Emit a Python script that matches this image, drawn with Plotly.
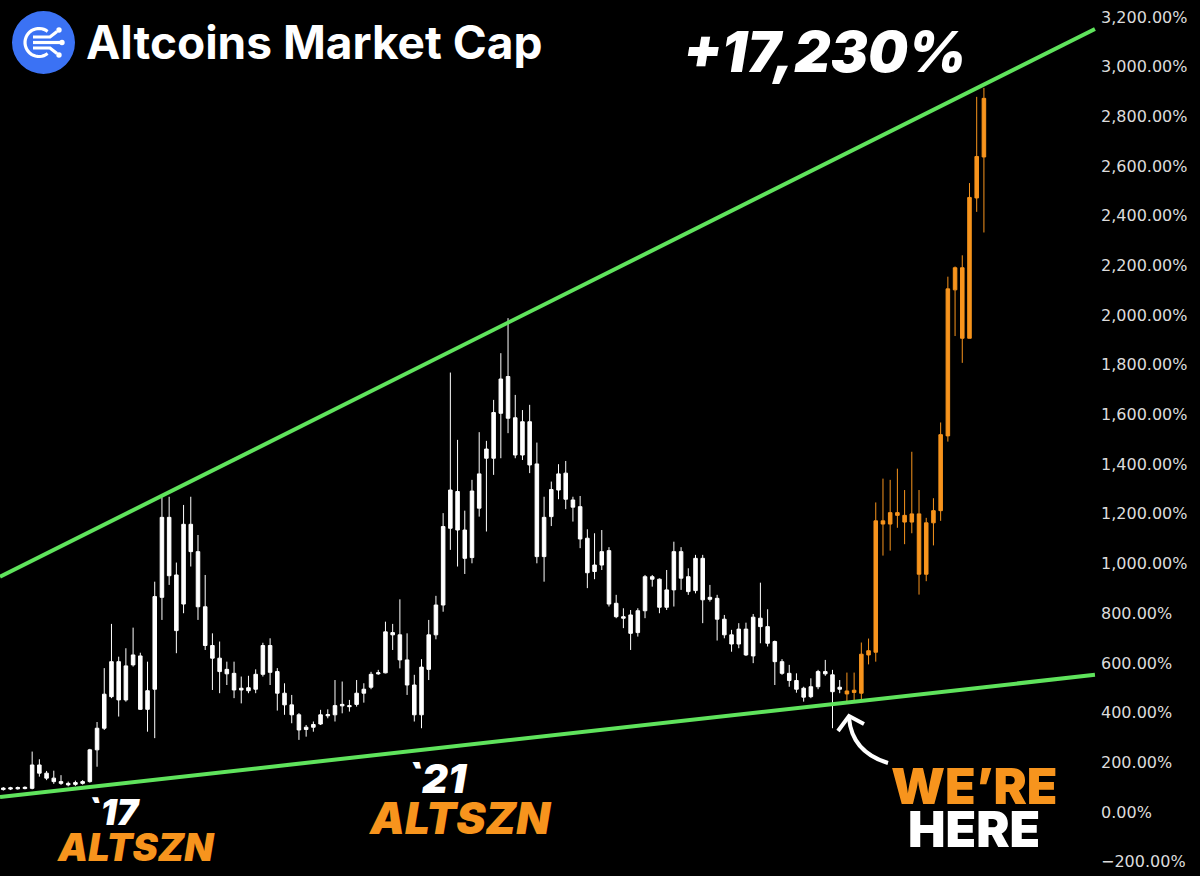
import numpy as np
import plotly.graph_objects as go

# bar-by-bar OHLC of the altcoin market cap, in % (oldest first)
OPEN = [90, 92, 93, 94, 95, 189, 156, 136, 122, 115,
        111, 115, 122, 250, 337, 464, 605, 451, 592, 628,
        413, 494, 864, 1186, 954, 837, 1158, 1048, 826, 670,
        619, 574, 558, 491, 488, 494, 554, 670, 565, 478,
        431, 391, 332, 341, 354, 387, 391, 427, 428, 433,
        478, 502, 556, 560, 722, 713, 612, 511, 391, 574,
        713, 833, 1142, 1290, 1135, 1024, 1223, 1424, 1424, 1605,
        1753, 1587, 1437, 1571, 1401, 1028, 1189, 1296, 1364, 1256,
        1229, 1102, 968, 994, 1052, 840, 786, 793, 722, 810,
        947, 937, 824, 894, 1048, 947, 891, 1021, 856, 860,
        776, 713, 676, 736, 628, 780, 746, 686, 605, 558,
        529, 498, 464, 504, 565, 552, 494, 487, 481, 478,
        632, 643, 1172, 1159, 1205, 1194, 1167, 1200, 957, 1164,
        1213, 1514, 2102, 2191, 1907, 2472, 2637]
HIGH = [100, 101, 102, 103, 243, 212, 165, 166, 148, 122,
        126, 128, 254, 362, 579, 757, 625, 659, 742, 641,
        605, 927, 1267, 1269, 1004, 1236, 1269, 1115, 954, 719,
        686, 605, 605, 545, 548, 574, 681, 699, 579, 518,
        471, 398, 350, 364, 411, 413, 531, 525, 451, 531,
        518, 564, 572, 766, 757, 856, 719, 552, 615, 773,
        870, 1203, 1769, 1498, 1213, 1337, 1529, 1494, 1659, 1847,
        1988, 1679, 1618, 1639, 1487, 1269, 1330, 1400, 1413, 1269,
        1272, 1138, 1122, 1135, 1066, 874, 820, 813, 820, 954,
        954, 940, 974, 1088, 1066, 981, 1035, 1035, 914, 874,
        793, 733, 760, 762, 797, 923, 816, 690, 615, 592,
        558, 504, 538, 572, 612, 572, 531, 561, 561, 682,
        698, 1246, 1342, 1337, 1382, 1296, 1450, 1296, 1184, 1263,
        1568, 2155, 2196, 2241, 2532, 2879, 2915]
LOW = [86, 88, 90, 91, 91, 142, 128, 113, 109, 103,
       105, 110, 118, 182, 330, 458, 384, 444, 585, 411,
       323, 297, 773, 914, 639, 800, 988, 773, 652, 491,
       478, 511, 458, 437, 478, 478, 545, 511, 408, 391,
       357, 290, 303, 323, 350, 377, 364, 397, 404, 424,
       440, 494, 552, 558, 652, 578, 471, 364, 337, 531,
       695, 806, 1055, 988, 958, 1001, 1189, 1129, 1357, 1424,
       1525, 1424, 1417, 1364, 1001, 927, 1151, 1259, 1219, 1169,
       1062, 901, 937, 974, 827, 780, 740, 652, 706, 780,
       907, 800, 813, 827, 894, 874, 880, 760, 847, 690,
       699, 645, 659, 628, 599, 679, 666, 511, 552, 504,
       480, 444, 458, 494, 548, 337, 478, 437, 441, 445,
       594, 605, 1032, 1052, 1144, 1078, 1122, 875, 929, 1073,
       1172, 1491, 1916, 1808, 1907, 2416, 2333]
CLOSE = [96, 97, 98, 99, 189, 156, 136, 122, 115, 109,
         118, 122, 250, 337, 474, 605, 451, 588, 632, 413,
         488, 867, 1186, 951, 730, 1158, 1048, 826, 670, 619,
         565, 556, 491, 498, 500, 554, 670, 562, 478, 431,
         391, 330, 341, 352, 391, 392, 428, 433, 424, 478,
         494, 554, 560, 725, 713, 612, 511, 391, 583, 713,
         833, 1149, 1296, 1135, 1021, 1292, 1361, 1461, 1608, 1743,
         1585, 1437, 1571, 1397, 1028, 1186, 1298, 1361, 1259, 1227,
         1099, 963, 994, 1048, 837, 786, 780, 719, 810, 947,
         937, 824, 894, 1048, 941, 887, 1021, 854, 864, 776,
         713, 676, 736, 632, 784, 746, 679, 605, 558, 529,
         494, 462, 504, 565, 556, 484, 502, 475, 490, 635,
         649, 1172, 1159, 1205, 1194, 1167, 1200, 957, 1164, 1213,
         1519, 2106, 2191, 1907, 2474, 2639, 2873]
N_WHITE = 117  # the last bars are highlighted in orange
BARS = list(range(len(OPEN)))

# wedge trend lines (start / end)
TREND_X = [-0.46, 151.4]
UPPER_TREND = [947, 3152]
LOWER_TREND = [60, 552]

ORANGE = "#f7941d"
GREEN = "#5fe35c"
W, H = 1200, 876
PLOT_W = 1100


def px(x):
    return x / PLOT_W


def py(y):
    return 1 - y / H


def path(points):
    return "M " + " L ".join(f"{px(x):.5f},{py(y):.5f}" for x, y in points)


def candles(sl, color):
    style = dict(line=dict(color=color, width=1), fillcolor=color)
    return go.Candlestick(
        x=BARS[sl], open=OPEN[sl], high=HIGH[sl], low=LOW[sl], close=CLOSE[sl],
        increasing=style, decreasing=style, whiskerwidth=0,
        hoverinfo="skip", showlegend=False,
    )


fig = go.Figure()
for trend in (UPPER_TREND, LOWER_TREND):
    fig.add_trace(go.Scatter(x=TREND_X, y=trend, mode="lines",
                             line=dict(color=GREEN, width=4),
                             hoverinfo="skip", showlegend=False))
fig.add_trace(candles(slice(0, N_WHITE), "#ffffff"))
fig.add_trace(candles(slice(N_WHITE, None), ORANGE))

# logo
shapes = [dict(type="circle", xref="paper", yref="paper",
               x0=px(12), x1=px(75), y0=py(74), y1=py(11),
               fillcolor="#3b72f4", line=dict(width=0))]
t = np.radians(np.linspace(52, 308, 30))
arc = list(zip(39 + 14 * np.cos(t), 42.5 - 14 * np.sin(t)))
icon_lines = [arc,
              [(33, 42.5), (60, 42.5)],
              [(33, 37), (50, 37), (57, 31.5)],
              [(33, 48), (50, 48), (57, 53.5)]]
for pts in icon_lines:
    shapes.append(dict(type="path", xref="paper", yref="paper", path=path(pts),
                       line=dict(color="white", width=3.2)))
for cx, cy in [(62, 42.5), (59, 30), (59, 55)]:
    shapes.append(dict(type="circle", xref="paper", yref="paper",
                       x0=px(cx - 2.7), x1=px(cx + 2.7), y0=py(cy + 2.7), y1=py(cy - 2.7),
                       fillcolor="white", line=dict(width=0)))

# "we're here" arrow
shapes.append(dict(type="path", xref="paper", yref="paper",
                   path=f"M {px(888):.5f},{py(763):.5f} Q {px(852):.5f},{py(752):.5f} {px(849):.5f},{py(718):.5f}",
                   line=dict(color="white", width=4)))
shapes.append(dict(type="path", xref="paper", yref="paper",
                   path=path([(838, 731), (849, 716), (864, 724)]),
                   line=dict(color="white", width=4)))


def label(text, x, y, size, color="white", italic=False, weight=900, anchor="center"):
    return dict(text=text, x=px(x), y=py(y), xref="paper", yref="paper",
                xanchor=anchor, yanchor="middle", showarrow=False,
                font=dict(family="Inter", size=size, color=color, weight=weight,
                          style="italic" if italic else "normal"))


annotations = [
    label("Altcoins Market Cap", 84, 42, 46, weight=700, anchor="left"),
    label("+17,230%", 824, 52, 56, italic=True),
    label("`17", 113, 812, 36, italic=True),
    label("ALTSZN", 136, 847, 38, color=ORANGE, italic=True),
    label("`21", 437, 778, 40, italic=True),
    label("ALTSZN", 460, 818, 44, color=ORANGE, italic=True),
    label("WE\u2019RE", 974, 786, 50, color=ORANGE),
    label("HERE", 974, 829, 50),
]

fig.update_layout(
    width=W, height=H,
    margin=dict(l=0, r=W - PLOT_W, t=0, b=0, autoexpand=False),
    paper_bgcolor="black", plot_bgcolor="black",
    shapes=shapes, annotations=annotations,
    xaxis=dict(range=[-0.46, 152.1], visible=False, rangeslider=dict(visible=False)),
    yaxis=dict(range=[-258, 3269], side="right", dtick=200, tick0=0,
               tickformat=",.2f", ticksuffix="%", showgrid=False, zeroline=False,
               showline=False, ticks="",
               tickfont=dict(family="DejaVu Sans", size=16, color="#dcdcdc")),
    showlegend=False,
)

fig.write_html("out.html", config={"displayModeBar": False},
               post_script="document.body.style.margin='0';")
